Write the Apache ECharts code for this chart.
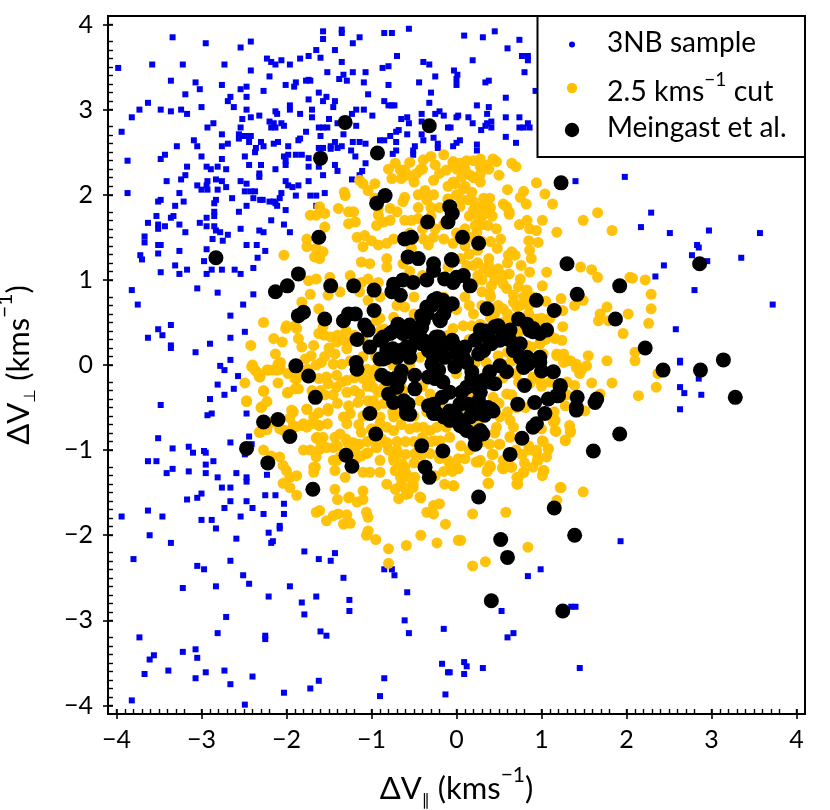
<!DOCTYPE html>
<html><head><meta charset="utf-8">
<style>html,body{margin:0;padding:0;background:#fff}#c{width:830px;height:810px}</style>
<script src="https://cdn.jsdelivr.net/npm/echarts@6/dist/echarts.min.js"></script>
</head><body><div id="c"></div>
<script>
const xTicks=[-4,-3,-2,-1,0,1,2,3,4];
const legendLabels=['3NB sample','2.5 kms','Meingast et al.'];
const sample3NB=[[-3.34,3.85],[-2.95,3.78],[-2.54,3.73],[-2.42,3.80],[-1.57,3.92],[-1.57,3.83],[-1.35,3.94],[-1.35,3.90],[-1.14,3.85],[-1.22,3.78],[-0.85,3.90],[-0.76,3.90],[-0.56,3.95],[-1.65,3.70],[-1.43,3.70],[-0.70,3.63],[-1.74,3.63],[-1.84,3.60],[-1.60,3.61],[-2.23,3.60],[-2.18,3.56],[-2.13,3.53],[-2.06,3.58],[-1.96,3.53],[-1.35,3.56],[-3.58,3.53],[-3.22,3.53],[-2.73,3.53],[-0.39,3.56],[-0.32,3.53],[-3.98,3.49],[-2.42,3.46],[-0.80,3.51],[-0.87,3.49],[-1.52,3.44],[-1.22,3.44],[-1.07,3.44],[-1.33,3.41],[-2.20,3.39],[-0.25,3.39],[-1.38,3.36],[-1.29,3.34],[-1.74,3.35],[-1.77,3.34],[-1.72,3.34],[-3.36,3.34],[-3.07,3.32],[-2.76,3.29],[-1.09,3.32],[-0.80,3.29],[-0.44,3.32],[-2.01,3.29],[-1.89,3.32],[-1.91,3.27],[-3.02,3.24],[-2.47,3.27],[-2.54,3.24],[-2.27,3.22],[-1.62,3.20],[-0.30,3.20],[-3.19,3.18],[-2.66,3.15],[-2.47,3.15],[-1.04,3.18],[-1.74,3.12],[-1.53,3.15],[-1.57,3.10],[-1.43,3.10],[-2.69,3.10],[-0.85,3.10],[-3.63,3.08],[-0.32,3.08],[-0.80,3.05],[-0.76,3.05],[-0.73,3.05],[-1.96,3.05],[-3.00,3.03],[-2.62,3.03],[-1.45,3.03],[-3.73,3.00],[-3.48,3.00],[-3.36,2.98],[-3.24,3.00],[-3.17,2.95],[-2.47,3.00],[-2.13,2.98],[-2.11,2.95],[-1.96,3.00],[-1.70,3.00],[-1.84,2.95],[-1.18,3.00],[-1.09,3.00],[-1.23,2.95],[-0.41,2.95],[-0.25,2.95],[-0.20,2.98],[-0.15,2.93],[-3.82,2.91],[-0.99,2.93],[-2.32,2.93],[-2.42,2.91],[-1.70,2.91],[-2.52,2.89],[-1.50,2.89],[-0.58,2.91],[-0.65,2.89],[-0.41,2.86],[-2.20,2.86],[-2.86,2.84],[-2.15,2.84],[-2.06,2.84],[-2.03,2.81],[-2.18,2.79],[-2.13,2.79],[-2.54,2.79],[-2.93,2.79],[-1.62,2.79],[-1.57,2.79],[-1.52,2.79],[-1.40,2.84],[-1.18,2.81],[-0.56,2.84],[-0.10,2.79],[-3.94,2.74],[-1.77,2.74],[-0.68,2.76],[-0.71,2.74],[-0.41,2.71],[-0.58,2.71],[-2.76,2.71],[-2.56,2.71],[-2.52,2.69],[-2.47,2.69],[-2.42,2.69],[-2.56,2.66],[-1.60,2.69],[-1.33,2.71],[-0.78,2.69],[-0.27,2.67],[-1.84,2.66],[-1.86,2.64],[-3.09,2.64],[-0.85,2.64],[-0.90,2.64],[-0.39,2.64],[-2.44,2.62],[-2.30,2.62],[-2.10,2.62],[-2.15,2.60],[-2.27,2.57],[-1.43,2.62],[-1.22,2.62],[-1.14,2.62],[-1.07,2.60],[-0.71,2.62],[-0.22,2.60],[-2.69,2.60],[-2.76,2.57],[-3.05,2.57],[-3.29,2.57],[-1.98,2.57],[-1.62,2.55],[-1.57,2.55],[-1.48,2.57],[-1.48,2.54],[-1.35,2.57],[-1.40,2.55],[-0.49,2.57],[-2.36,2.55],[-2.37,2.50],[-1.24,2.52],[-0.22,2.55],[-0.71,2.52],[-0.51,2.52],[-0.75,2.48],[-3.43,2.47],[-3.00,2.45],[-2.49,2.45],[-1.98,2.47],[-2.03,2.45],[-1.89,2.47],[-1.82,2.47],[-1.74,2.43],[-1.19,2.45],[-0.51,2.47],[-3.48,2.42],[-2.76,2.42],[-3.87,2.40],[-2.01,2.40],[-2.01,2.35],[-2.44,2.35],[-2.30,2.35],[-1.07,2.37],[-1.43,2.35],[-1.74,2.33],[-1.62,2.33],[-3.17,2.33],[-2.94,2.33],[-2.89,2.30],[-2.81,2.33],[-2.71,2.30],[-2.13,2.30],[-1.40,2.28],[-2.32,2.25],[-2.32,2.21],[-1.57,2.23],[-1.11,2.28],[-1.14,2.23],[-3.19,2.23],[-3.24,2.18],[-2.83,2.18],[-2.76,2.16],[-3.41,2.16],[-2.93,2.16],[-2.54,2.16],[-2.47,2.13],[-1.23,2.18],[-1.74,2.16],[-2.01,2.16],[-1.98,2.11],[-1.86,2.11],[-1.93,2.09],[-3.05,2.11],[-2.94,2.11],[-3.00,2.06],[-2.93,2.06],[-2.81,2.06],[-2.71,2.09],[-3.87,2.02],[-3.26,2.02],[-2.49,2.04],[-2.42,2.04],[-2.37,2.04],[-2.06,2.02],[-1.55,2.02],[-1.72,1.99],[-1.65,1.99],[-1.89,1.99],[-2.39,1.96],[-2.64,1.96],[-2.83,1.94],[-2.31,1.94],[-2.08,1.96],[-2.28,1.94],[-2.20,1.92],[-2.15,1.92],[-2.13,1.90],[-2.11,1.87],[-3.48,1.94],[-3.51,1.92],[-3.21,1.92],[-3.31,1.87],[-2.85,1.90],[-2.47,1.87],[-1.65,1.87],[-2.01,1.82],[-2.56,1.80],[-2.85,1.80],[-2.85,1.75],[-3.33,1.75],[-3.36,1.73],[-3.53,1.75],[-2.94,1.73],[-2.18,1.70],[-3.63,1.67],[-3.02,1.67],[-3.51,1.65],[-3.51,1.60],[-3.43,1.63],[-3.26,1.65],[-2.03,1.65],[-2.94,1.63],[-2.85,1.63],[-2.83,1.58],[-2.78,1.56],[-2.54,1.60],[-3.19,1.56],[-2.32,1.58],[-2.27,1.56],[-1.96,1.56],[-2.69,1.53],[-3.67,1.51],[-3.67,1.44],[-2.87,1.48],[-2.75,1.46],[-3.51,1.41],[-3.48,1.41],[-2.47,1.41],[-2.35,1.41],[-2.94,1.36],[-2.25,1.34],[-3.26,1.34],[-3.51,1.31],[-3.72,1.29],[-3.70,1.24],[-2.34,1.26],[-2.97,1.22],[-3.31,1.17],[-3.17,1.12],[-2.88,1.12],[-2.76,1.12],[-2.61,1.12],[-2.39,1.14],[-3.48,1.09],[-3.26,1.07],[-2.94,1.07],[-2.54,1.07],[-3.05,0.90],[-3.82,0.88],[-2.81,0.85],[-2.39,0.83],[-3.75,0.71],[-2.51,0.71],[-2.66,0.58],[-3.36,0.47],[-3.51,0.42],[-3.46,0.35],[-2.49,0.39],[-3.63,0.32],[-2.66,0.32],[-2.90,0.25],[-3.36,0.23],[-3.36,0.20],[-3.07,0.15],[-2.66,0.06],
[0.09,3.87],[0.31,3.85],[0.45,3.92],[0.60,3.72],[0.74,3.82],[0.19,3.58],[0.77,3.63],[0.84,3.63],[0.84,3.58],[-0.03,3.46],[0.01,3.41],[0,3.36],[0,3.29],[0.80,3.44],[0.34,3.32],[0.38,3.34],[0.93,3.22],[0.58,3.14],[0.24,3.05],[0.38,3.03],[0.36,2.95],[0,2.91],[0.02,2.93],[0.14,2.91],[0.19,2.84],[0.58,2.91],[0.74,2.91],[0.34,2.81],[0.36,2.84],[0.41,2.86],[0.41,2.79],[0.29,2.76],[0.74,2.79],[0.79,2.79],[0.84,2.84],[0.86,2.79],[-0.07,2.79],[0.58,2.68],[0.70,2.61],[0.04,2.64],[0,2.61],[-0.04,2.57],[0.24,2.59],[0.24,2.52],[1.40,2.16],[1.98,2.21],[2.29,1.79],[2.17,1.62],[2.51,1.55],[2.97,1.58],[3.57,1.55],[2.83,1.41],[2.85,1.38],[2.77,1.29],[2.95,1.22],[3.35,1.26],[2.44,1.17],[2.34,1.04],[2.80,0.88],[3.72,0.71],[2.58,0.42],[2.63,0.05],
[-2.78,-0.01],[-2.73,-0.06],[-2.57,-0.13],[-2.81,-0.23],[-2.62,-0.28],[-2.73,-0.35],[-2.90,-0.40],[-3.48,-0.47],[-2.47,-0.57],[-2.88,-0.57],[-2.93,-0.59],[-2.44,-0.84],[-3.51,-0.86],[-2.66,-0.91],[-3.15,-0.96],[-3.34,-0.98],[-3.10,-1.03],[-2.97,-1.01],[-2.95,-1.03],[-2.49,-1.05],[-2.41,-0.93],[-3.63,-1.13],[-3.53,-1.13],[-2.86,-1.13],[-2.95,-1.17],[-3.34,-1.22],[-3.41,-1.27],[-3.15,-1.25],[-2.95,-1.27],[-2.59,-1.27],[-2.23,-1.29],[-2.81,-1.32],[-2.47,-1.32],[-2.47,-1.37],[-2.76,-1.44],[-2.66,-1.44],[-3.00,-1.51],[-3.05,-1.56],[-3.17,-1.58],[-2.25,-1.53],[-2.13,-1.53],[-2.66,-1.60],[-2.47,-1.60],[-2.73,-1.68],[-2.40,-1.68],[-2.03,-1.63],[-2.03,-1.75],[-3.63,-1.71],[-3.94,-1.78],[-3.46,-1.78],[-2.54,-1.78],[-2.27,-1.75],[-3.00,-1.82],[-2.88,-1.82],[-2.83,-1.92],[-2.08,-1.89],[-2.08,-1.92],[-3.61,-2.00],[-2.21,-1.97],[-2.59,-2.04],[-3.36,-2.09],[-2.18,-2.09],[-2.16,-2.07],[-1.79,-2.19],[-1.43,-2.21],[-1.62,-2.28],[-1.48,-2.30],[-3.80,-2.28],[-2.66,-2.30],[-3.05,-2.36],[-2.97,-2.40],[-0.85,-2.40],[-0.76,-2.40],[-0.73,-2.47],[-2.51,-2.47],[-2.44,-2.57],[-1.33,-2.50],[-2.83,-2.60],[-3.22,-2.62],[-1.96,-2.60],[-0.58,-2.67],[-2.21,-2.72],[-1.65,-2.72],[-1.82,-2.79],[-1.26,-2.76],[-1.26,-2.89],[-1.79,-2.93],[-2.71,-2.96],[-0.61,-3.00],[-0.15,-3.10],[-1.60,-3.13],[-1.53,-3.18],[-0.56,-3.15],[-2.81,-3.15],[-2.25,-3.18],[-2.25,-3.22],[-3.73,-3.20],[-3.07,-3.34],[-3.22,-3.37],[-3.05,-3.44],[-3.56,-3.41],[-3.61,-3.46],[-0.17,-3.51],[-3.39,-3.59],[-2.73,-3.59],[-2.95,-3.61],[-3.67,-3.63],[-3.07,-3.68],[-2.40,-3.66],[-0.85,-3.68],[-0.10,-3.61],[-1.62,-3.71],[-2.66,-3.75],[-1.72,-3.80],[-2.03,-3.85],[-0.13,-3.87],[-0.90,-3.89],[-3.82,-3.94],[-2.49,-3.99],
[2.63,0.03],[2.85,-0.16],[2.63,-0.26],[2.68,-0.33],[2.88,-0.35],[2.63,-0.52],[1.93,-2.07],[0.99,-2.40],[0.84,-2.48],[0.53,-2.89],[1.35,-2.84],[1.40,-2.84],[0.67,-3.15],[0.60,-3.20],[0.09,-3.49],[0.12,-3.54],[0.09,-3.63],[-0.08,-3.61],[0.31,-3.56],[1.45,-3.56]];
const cut25=[[0.94,2.14],[0.60,2.06],[0.79,2.04],[1.04,2.01],[0.75,1.97],[0.82,1.89],[1.13,1.89],[0.55,1.89],[0.59,1.86],[0.62,1.77],[0.62,1.80],[0.50,2.23],[0.65,2.37],[0.70,2.33],[0.43,2.42],[0.47,2.39],[0.36,2.35],[0.28,2.42],[0.28,2.33],[0.20,2.40],[0.12,2.40],[0.04,2.37],[-0.04,2.37],[0.38,2.30],[0.28,2.24],[0.28,2.15],[0.16,2.23],[0.06,2.21],[-0.02,2.13],[0.08,2.07],[0.18,2.03],[0.14,1.94],[0.04,1.86],[0.32,1.96],[0.39,1.96],[0.32,1.88],[0.20,1.82],[0.35,1.83],[0.26,1.72],[1.01,1.70],[0.83,1.70],[0.74,1.65],[0.86,1.60],[0.94,1.58],[1.18,1.56],[1.49,1.70],[1.66,1.79],[1.83,1.58],[0.47,1.60],[0.37,1.64],[0.30,1.65],[0.22,1.64],[0.24,1.56],[0.52,1.48],[0.48,1.37],[0.85,1.46],[0.96,1.44],[0.86,1.35],[0.88,1.25],[0.65,1.33],[0.61,1.29],[0.69,1.29],[0.38,1.25],[0.38,1.17],[0.32,1.13],[0.20,1.17],[0.12,1.17],[0.49,1.13],[0.43,1.09],[0.38,1.09],[0.76,1.17],[0.86,1.09],[0.62,1.07],[1.06,1.09],[1.46,1.15],[1.59,1.12],[1.66,1.03],[1.01,0.93],[0.75,1.01],[0.73,0.92],[0.59,0.90],[0.67,0.82],[0.79,0.80],[0.83,0.88],[0.30,0.86],[0.39,0.84],[0.41,0.93],[0.49,0.70],[0.55,0.66],[0.67,0.74],[0.71,0.68],[1.23,0.78],[0.94,0.54],[1.25,0.64],[1.39,0.70],[1.49,0.76],[1.25,0.45],[1.69,0.60],[1.77,0.68],[1.67,0.52],[1.79,0.52],[2.02,0.60],[2.04,1.03],
[1.96,0.37],[2.26,0.49],[2.29,0.66],[2.29,0.83],[2.07,1.02],[2.22,1.00],[1.16,0.31],[1.24,0.29],[0.88,0.21],[0.98,0.25],[1.18,0.13],[1.26,0.13],[1.55,0.11],[1.77,0.05],[2.10,0.15],[2.10,0.05],
[2.35,-0.26],[2.37,-0.10],[2.14,-0.36],[1.83,-0.21],[1.59,-0.21],[1.41,-0.03],[1.47,-0.06],[1.53,-0.01],[1.45,-0.10],[1.39,-0.24],[1.30,0.05],[1.26,0.03],[1.28,-0.48],[1.51,-0.54],[1.69,-0.34],[1.14,-0.67],[1.17,-0.78],[1.33,-0.71],[1.34,-0.79],[1.28,-0.88],[1.01,-0.89],[1.08,-0.98],[1.06,-1.08],[0.95,-1.12],[0.94,-1.03],[0.85,-1.00],[0.42,-1.05],[0.50,-0.93],[0.63,-0.84],[0.77,-1.05],[0.79,-1.26],[0.73,-1.32],[0.72,-1.40],[1.03,-1.24],[1.01,-1.30],[0.40,-1.20],[0.36,-1.25],[0.28,-1.12],[0.23,-1.14],[0.02,-1.10],[0,-1.21],[0.54,-1.21],[0.64,-1.20],[0.55,-1.12],[0.38,-1.39],[-0.03,-1.42],[1.23,-1.44],[1.49,-1.49],[1.18,-1.59],[0.58,-1.73],[0.19,-1.75],[0.02,-2.06],[0.05,-2.06],[0.84,-2.14],[0.34,-2.31],[0.19,-2.36],
[-2.41,-0.02],[-2.35,-0.08],[-2.32,-0.14],[-2.23,-0.06],[-2.10,0.01],[-2.16,-0.06],[-2.49,-0.21],[-2.10,-0.21],[-2.27,-0.31],[-2.23,-0.43],[-2.30,-0.50],[-2.47,-0.43],[-1.99,-0.33],[-1.90,-0.28],[-1.88,-0.16],[-1.84,-0.06],[-1.92,-0.55],[-1.76,-0.52],[-1.68,-0.61],[-1.61,-0.71],[-1.80,-0.69],[-1.92,-0.71],[-2.02,-0.77],[-2.08,-0.75],[-2.23,-0.76],[-2.32,-0.79],[-1.65,-0.86],[-1.80,-1.00],[-1.72,-1.00],[-1.61,-0.99],[-1.65,-1.08],[-1.53,-0.97],[-1.45,-1.12],[-1.37,-1.08],[-1.45,-0.97],[-1.57,-0.85],[-2.27,-1.00],[-2.18,-1.07],[-2.08,-1.08],[-2.04,-1.18],[-2.00,-1.24],[-1.88,-1.30],[-1.96,-1.32],[-2.04,-1.39],[-1.96,-1.44],[-1.88,-1.53],[-1.68,-1.26],[-1.66,-1.20],[-1.43,-1.24],[-1.41,-1.12],[-1.31,-1.32],[-1.43,-1.46],[-1.40,-1.58],[-1.26,-1.55],[-1.17,-1.61],[-1.10,-1.48],[-1.10,-1.58],[-1.65,-1.73],[-1.61,-1.71],[-1.53,-1.83],[-1.45,-1.77],[-1.39,-1.75],[-1.29,-1.76],[-1.25,-1.86],[-1.33,-1.87],[-1.06,-1.73],[-1.04,-1.79],[-1.04,-1.95],[-1.06,-2.00],[-0.95,-2.05],[-0.80,-2.16],[-0.80,-2.33],[-0.59,-2.12],[-0.42,-2.00],[-0.23,-2.09],[-0.13,-1.87],[-0.35,-1.73],[-0.27,-1.75],[-0.20,-1.63],[-0.27,-1.65],[-0.42,-1.56],[-0.68,-1.57],[-0.59,-1.52],[-0.72,-1.46],[-0.82,-1.40],[-0.66,-1.42],[-0.51,-1.44],[-0.49,-1.32],[-0.59,-1.28],[-0.72,-1.24],[-0.90,-1.26],[-1.02,-1.26],[-1.10,-1.26],[-0.90,-1.12],[-0.74,-1.08],[-0.70,-1.00],[-0.64,-1.16],[-1.06,-1.04],[-1.18,-1.10],[-0.94,-0.97],[-0.82,-0.91],[-1.17,-0.93],[-1.27,-0.93],
[-2.27,0.50],[-2.15,0.31],[-2.05,0.27],[-2.42,0.23],[-2.01,0.43],[-1.88,0.43],[-1.86,0.31],[-1.82,0.21],[-2.13,0.13],[-2.07,0.03],[-2.07,-0.05],[-2.40,0],[-2.37,-0.06],[-2.31,-0.14],[-2.21,-0.06],[-2.11,-0.06],[-1.98,-0.10],[-2.27,-0.30],[-2.47,-0.42],[-2.29,-0.49],[-1.86,-0.28],[-1.98,-0.32],[-1.90,-0.16],[-1.94,-0.53],[-1.96,-0.62],[-1.82,-0.71],[-1.90,-0.73],[-2.03,-0.77],[-2.17,-0.67],[-2.31,-0.79],[-1.76,-0.52],[-1.62,-0.56],[-1.70,-0.69],[-1.62,-0.71],[-1.76,-0.73],[-1.52,-0.69],[-1.51,-0.51],[-1.64,-0.85],[-1.68,-1.20],[-1.27,-1.56],[-1.68,0.23],[-1.56,0.35],[-1.62,0.37],[-1.48,0.33],[-1.59,0.03],[-1.71,0.11],[-1.78,0.07],[-1.33,0.29],[-1.41,0.27],[-1.43,0.13],[-1.29,0.19],[-1.35,0.01],[-1.45,0.01],[-1.62,-0.16],[-1.53,-0.14],[-1.41,-0.12],[-1.29,-0.18],[-1.41,-0.26],[-1.51,-0.22],[-1.29,-0.32],[-1.14,-0.34],[-1.04,-0.42],[-1.16,-0.44],[-1.27,-0.48],[-1.25,-0.57],[-1.29,-0.69],[-1.37,-0.81],[-1.43,-0.85],[-1.51,-0.54],[-1.33,-0.61],[-1.14,-0.93],[-1.22,-0.91],[-1.30,-0.87],[-0.94,-0.97],[-1.04,-1.03],[-1.12,-1.07],[-0.82,-0.93],[-0.88,-0.87],[-0.74,-0.77],[-0.74,-0.61],[-0.66,-0.57],[-1.12,-0.79],[-0.90,-0.69],[-0.82,-0.73],[-0.90,-0.61],[-0.98,-0.26],[-0.92,-0.32],[-1.10,-0.16],[-0.98,-0.42],[-0.94,-0.48],[-0.74,-1.12],[-0.70,-1.05],[-0.62,-1.20],[-0.72,-1.24],[-0.62,-1.32],
[-1.32,2.03],[-1.31,1.99],[-1.61,1.86],[-1.55,1.78],[-1.72,1.76],[-1.65,1.76],[-1.39,1.84],[-1.27,1.80],[-1.21,1.80],[-1.55,1.62],[-1.27,1.66],[-1.19,1.68],[-1.76,1.48],[-1.76,1.39],[-1.65,1.37],[-1.57,1.33],[-1.67,1.27],[-1.61,1.25],[-2.03,1.29],[-1.10,2.13],[-1.14,2.17],[-0.96,2.13],[-1.04,2.05],[-0.72,2.37],[-0.66,2.29],[-0.76,2.19],[-0.65,2.19],[-0.57,2.23],[-0.47,2.25],[-0.61,2.29],[-0.39,2.41],[-0.25,2.35],[-0.27,2.17],[-0.37,2.05],[-0.35,1.94],[-0.27,2.00],[-0.04,2.39],[-0.15,2.47],[-0.04,2.15],[-0.12,2.29],[-0.61,1.97],[-0.63,1.92],[-0.78,1.84],[-0.70,1.80],[-0.78,1.70],[-0.92,1.84],[-0.96,1.96],[-0.92,1.76],[-0.94,1.64],[-0.86,1.68],[-0.53,1.70],[-0.61,1.70],[-0.45,1.72],[-0.15,1.48],[-0.27,1.50],[-0.39,1.48],[-0.33,1.41],[-0.04,1.43],[-1.17,1.50],[-1.08,1.52],[-1.10,1.39],[-1.00,1.46],[-0.92,1.41],[-0.82,1.43],[-0.74,1.48],[-1.12,1.21],[-1.02,1.19],[-0.82,1.25],[-0.82,1.15],[-0.53,1.37],[-0.63,1.19],[-1.25,1.05],[-1.12,0.97],[-1.04,1.01],[-0.92,0.97],[-1.74,0.99],[-1.65,1.01],[-1.49,1.03],[-1.72,0.83],[-1.82,0.74],[-1.62,0.66],[-1.51,0.82],[-1.37,0.86],[-1.14,0.86],[-1.04,0.76],[-0.90,0.80],[-0.94,0.88],[-0.70,0.70],[-0.61,0.68],[-0.74,0.56],[-0.94,0.52],[-2.00,0.46],[-1.90,0.46],[-1.57,0.45],
[-0.04,0.43],[0.08,0.46],[0.18,0.46],[0.28,0.48],[-0.60,0.33],[-0.43,0.09],[-0.55,0.01],[0.35,0.03],[0.49,0.11],[0.55,0.01],[0.22,0.03],[0.98,0.25],[0.83,0.23],[1.02,0.13],[1.18,0.11],[1.34,0.05],[1.41,0.01],[0.90,-0.14],[0.86,-0.22],[0.98,-0.18],[0.73,-0.20],[0.59,-0.34],[0.43,-0.38],[0.51,-0.61],[0.63,-0.65],[0.67,-0.73],[0.47,-0.73],[0.71,-0.50],[0.81,-0.50],[-0.31,-0.34],[-0.43,-0.42],[-0.39,-0.73],[-0.47,-0.73],[-0.31,-0.77],[-0.23,-0.73],[-0.12,-0.73],[-0.25,-0.89],[-0.08,-0.85],[-0.63,-0.30],[-0.65,-0.26],[0,-0.10],[0.16,0.05],[1.34,-0.77],[1.16,-0.77],[1.28,-0.89],[1.16,-0.65],[1.02,-0.90],[1.08,-0.99],[0.94,-1.00],[0.96,-1.12],[1.02,-1.24],[0.79,-1.26],[0.71,-1.32],[0.71,-1.40],[0.63,-0.85],[0.51,-0.93],[0.39,-0.93],[0.43,-1.05],[0.26,-1.14],[0.37,-1.22],[0.39,-1.18],[0.55,-1.22],[0.65,-1.20],[-0.08,-1.16],[0.02,-1.22],[-0.10,-1.12],[-0.49,-1.04],[-0.41,-1.06],[-0.31,-1.04],[-0.19,-0.89],[-0.61,-1.20],[-0.66,-1.32],[-0.55,-1.32],[-0.51,-1.40],[-0.61,-1.44],[-0.57,-1.51],[-0.43,-1.55],[-0.14,-1.40],[-0.04,-1.42],[0.37,-1.39],[1.22,-1.44],
[-0.70,0.10],[-0.80,0.20],[-0.60,-0.10],[-0.75,0],[-0.85,-0.25],[-0.60,-0.45],[-0.70,-0.35],[-0.50,-0.60],[-0.35,-0.55],[-0.40,-0.25],[-0.20,-0.45],[-0.05,-0.60],[0.10,-0.55],[0.25,-0.70],[0.35,-0.55],[0.15,-0.35],[0.30,-0.15],[0.10,0.10],[-0.10,0.35],[0.15,0.30],[0.50,0.30],[0.60,0.50],[0.45,0.60],[0.20,0.60],[0,0.65],[-0.15,0.80],[0.10,0.80],[-0.50,0.80],[-0.40,1.05],[-0.50,0.60],[-0.90,0.40],[-1.20,0.35],[-1.10,0.10],[-0.95,-0.05],[-1.20,-0.15],[0.65,0.05],[0.75,-0.05],[0.75,0.40],[0.95,0.40],[1.10,0.55],[1.05,0.75],[0.90,0.80],[-0.10,1.15],[0.05,1.05],[0.25,1.05],[-0.55,1.10],[-0.15,1.65],[-0.30,1.75],[-0.10,1.95],[0.10,1.60],[0.10,1.40],[0.25,1.35],
[-0.40,2.30],[-0.30,2.45],[-0.20,2.25],[-0.10,2.10],[0,2.30],[0.10,2.30],[0.20,2.20],[0.10,2.10],[-0.10,1.95],[0,2.00],[0.05,1.95],[0.20,1.92],[0.25,1.85],[0.40,1.85],[0.42,1.75],[0.30,1.75],[0.15,1.75],[-0.20,1.85],[-0.45,2.00],[-0.50,2.15],[-0.42,2.30],[-0.55,2.38],[-0.80,2.30],[-0.30,1.85],[-0.45,1.85],[-0.55,1.55],[-0.40,1.60],[-0.25,1.60],[0,1.55],[0.15,1.50],[0.30,1.45],[0.40,1.45],[0.15,1.30],[0.05,1.25],[0.25,1.20],[0.55,1.05],[0.60,1.20],[0.30,1.00],[0.45,1.00],[0.55,0.95],[0.40,0.80],[0.20,0.95],[0.15,0.70],[0.30,0.70],[0.40,0.55],[0.55,0.50],[0.75,0.70],[0.85,0.70],[0.60,0.60],[1.00,0.55],[1.10,0.35],[1.00,0.45],[0.85,0.60],
[-1.30,0.40],[-1.50,0.20],[-1.25,0.05],[-1.05,-0.05],[-0.95,0.10],[-0.85,0.10],[-0.75,0.10],[-0.70,-0.10],[-1.00,-0.15],[-1.20,-0.30],[-1.05,-0.25],[-0.85,-0.45],[-0.75,-0.55],[-0.65,-0.70],[-0.55,-0.75],[-0.60,-0.90],[-0.70,-0.90],[-0.50,-0.90],[-0.40,-0.85],[-0.30,-0.90],[-1.00,-0.55],[-1.10,-0.60],[-1.15,-0.70],[-1.00,-0.75],[-0.95,-0.90],[-1.05,-0.90],[-1.40,-0.45],[-1.45,-0.35],[-1.35,-0.20],[-1.55,-0.35],[-1.60,-0.30],[-1.70,-0.30],[-1.75,-0.15],[-1.75,-0.05],[-1.65,0],[-1.55,0.10],[-1.40,0.35],[-1.25,0.28],[-1.10,0.30],[-0.90,0.55],[-0.85,0.42],[-1.60,-0.90],[-1.40,-0.95],[-1.20,-1.00],[-0.80,-1.00],[-0.60,-1.05],[-0.50,-1.15],[-0.35,-1.20],[-0.20,-1.10],[-0.15,-1.25],[-0.25,-1.30],[-0.05,-1.25],[0.15,-1.00],[0.05,-0.95],[0.10,-1.10],
[0.30,-0.90],[0.20,-0.80],[0.45,-0.80],[0.60,-0.55],[0.50,-0.45],[0.65,-0.35],[0.55,-0.15],[0.70,-0.10],[0.60,0.15],[0.45,0.35],[0.70,0.35],[1.05,0.30],[1.00,-0.25],[1.10,-0.20],[1.30,-0.20],[1.30,-0.35],[1.15,-0.55],[1.00,-0.75],[0.85,-0.95],[0.70,-1.00],[0.80,-1.15],[0.90,-1.20]];
const meingast=[[-1.31,2.85],[-0.32,2.81],[-1.60,2.43],[-0.93,2.49],[-0.84,1.99],[-0.94,1.90],[-0.34,1.68],[-0.08,1.86],[-0.05,1.78],[-0.10,1.68],[-1.62,1.50],[-0.61,1.48],[-0.53,1.50],[-2.83,1.26],[-1.86,1.07],[-1.99,0.93],[-2.13,0.86],[-0.57,1.27],[-0.45,1.25],[-0.27,1.19],[-0.27,1.11],[-0.06,1.24],[-1.48,0.93],[-1.21,0.93],[-0.97,0.88],[-0.74,0.95],[-0.63,1.00],[-0.76,0.86],[-0.66,0.82],[-0.51,0.97],[-0.35,1.00],[-0.14,1.01],[-0.04,0.97],[-0.97,0.64],[-0.29,0.70],[-0.23,0.78],[-0.15,0.60],[-0.35,0.60],[-0.19,0.52],[-0.39,0.52],[-1.80,0.62],[-1.86,0.58],[-1.55,0.54],[-1.27,0.60],[-1.19,0.60],[-1.33,0.52],[-1.08,0.47],[-0.68,0.47],[-0.55,0.47],
[-1.04,0.41],[-1.17,0.30],[-1.02,0.21],[-0.90,0.29],[-0.78,0.37],[-0.63,0.37],[-0.90,0.07],[-0.74,0.17],[-0.59,0.21],[-1.89,-0.01],[-1.74,-0.13],[-1.18,0.03],[-1.17,-0.05],[-1.66,-0.38],[-0.88,-0.12],[-0.72,-0.16],[-0.80,-0.34],[-0.74,-0.44],[-0.59,-0.57],[-0.65,-0.07],[-1.02,-0.57],[-0.95,-0.81],[-2.27,-0.67],[-2.10,-0.64],[-1.96,-0.84],[-2.47,-0.98],[-2.22,-1.15],[-1.30,-1.06],[-1.23,-1.19],[-1.69,-1.46],
[-0.55,0.19],[-0.47,0.29],[-0.55,0.41],[-0.41,0.44],[-0.21,0.33],[-0.19,0.19],[-0.29,0.01],[-0.04,0.23],[0.10,0.21],[0.08,0.09],[0.26,0.13],[0.41,0.25],[0.37,0.33],[-0.02,-0.02],[-0.21,-0.06],[0.18,-0.08],[-0.49,-0.12],[-0.67,-0.16],[-0.49,-0.28],[-0.57,-0.46],[-0.55,-0.58],[-0.27,-0.46],[-0.23,-0.57],[-0.08,-0.54],[0.04,-0.46],[0.12,-0.26],[-0.08,-0.32],[-0.16,-0.20],[0.28,-0.32],[0.26,-0.42],[0.45,-0.22],[0.39,-0.08],[0.59,-0.08],[0.51,-0.01],[0.24,-0.57],[0.41,-0.52],[0.33,-0.59],[0.04,-0.71],[0.12,-0.77],[0.31,-0.81],[0.22,-0.93],[0.72,-0.46],[0.80,-0.24],[0.92,-0.44],[1.04,-0.57],[0.94,-0.69],[0.90,-0.73],[0.77,-0.86],[-0.41,-0.95],[-0.16,-1.01],[0.63,-1.05],[-0.37,-1.20],[-0.32,-1.32],[0.26,-1.55],[0.80,0.07],[0.79,-0.03],[0.96,0.07],[1.00,-0.07],[1.14,-0.08],[1.06,0.41],[0.90,0.39],[0.69,0.23],[0.63,0.29],[0.49,0.46],[0.59,0.35],[1.22,-0.24],[1.18,-0.36],[1.08,-0.40],[1.41,-0.50],
[2.43,-0.06],[2.87,-0.06],[3.14,0.06],[3.28,-0.38],[1.92,-0.81],[1.61,-1.01],[1.42,-0.38],[1.41,-0.53],[1.65,-0.40],[1.63,-0.44],[1.22,-0.26],[1.20,-0.36],[1.15,-1.68],[0.52,-2.05],[1.39,-2.00],[0.60,-2.26],[0.41,-2.77],[1.25,-2.89],
[1.23,2.14],[0.07,1.50],[0.26,1.43],[1.30,1.19],[2.86,1.19],[1.92,0.93],[1.42,0.83],[0.94,0.76],[1.15,0.64],[1.87,0.54],[2.22,0.20],[-0.05,1.23],[0.16,0.93],[0.08,1.05],[0,1.03],[-0.05,0.72],[0.36,0.66],[0.45,0.45],[0.35,0.37],[0.28,0.41],[0.73,0.54],[0.83,0.48],[0.90,0.43],[0,0.21],[0.39,0.25],[0.75,0.25],[0.67,0.17],[0.98,0.09],[0.83,0.09],
[-0.39,0.29],[-0.27,0.29],[-0.33,0.17],[-0.14,0.09],[-0.05,0.29],[0,0.13],[0.12,0.03],[0.32,0.17],[0.22,0.29],[0.35,0.40],[-0.25,-0.16],[-0.33,-0.14],[-0.17,-0.38],[0.06,-0.32],[0.18,-0.16],[0.32,-0.18],[0.24,-0.26],[0.39,-0.20],[0.14,-0.46],[0.16,-0.61],[0,-0.61],[-0.08,-0.65],[0.08,-0.73],[0.20,-0.81],[0.28,-0.77],[0.37,-0.50],[0.43,-0.54],[-0.27,-0.57],[-0.15,-0.61],[-0.33,-0.48],[0.47,0.45],[0.63,0.41],[0.51,0.29],[0.86,0.41],[0.98,0.37],[0.71,0.21],[0.75,0.09],[0.84,0.01],[0.98,0.03],[-0.82,0.17],[-0.66,0.17],[-0.70,0.09],[-0.82,0.09],[-0.70,-0.26],[-0.62,-0.42],[-0.59,-0.50],[-0.82,-0.16],[-0.27,0.76],[-0.35,0.68],[-0.16,0.76],[-0.41,0.58],[-0.20,0.54],[-0.12,0.68],[-0.69,0.48],[-0.51,0.37],[-0.75,0.39],[-0.86,0.33],[-0.75,0.19],[-0.57,0.21],[-0.41,0.25],[-0.24,0.33],[-0.08,0.25],[-0.55,0.09],[-0.27,0.09],[-0.86,0.07]];

const font='Lato';
const ink='#000';
const blue='#0000f0', gold='#ffc000';
const axisBase=(extra)=>Object.assign({type:'value',min:-4.1,max:4.1,splitLine:{show:false},axisLine:{show:false,onZero:false}},extra);
const tickFmt=v=>{const a=Math.abs(v);if(Math.abs(a-Math.round(a))>1e-6)return '';return (v<0?'\u2212':'')+Math.round(a);};
const major=(name,rich,margin,extra)=>axisBase(Object.assign({
  startValue:-4,interval:1,
  axisTick:{show:true,inside:false,length:5,lineStyle:{color:ink,width:1.6},customValues:xTicks},
  axisLabel:{show:true,color:ink,fontFamily:font,fontSize:25,margin:margin,formatter:tickFmt,customValues:xTicks},
  name:name,nameLocation:'middle',nameTextStyle:{color:ink,fontFamily:font,fontSize:31,rich:rich}
},extra));
const inner=(extra)=>axisBase(Object.assign({
  startValue:-4,interval:1,
  axisTick:{show:true,inside:true,length:5,lineStyle:{color:ink,width:1.6},customValues:xTicks},
  minorTick:{show:true,splitNumber:10,length:5,lineStyle:{color:ink,width:1.4}},
  axisLabel:{show:false}
},extra));
const richCommon={
  t:{fontFamily:font,fontSize:31,color:ink,lineHeight:36,verticalAlign:'bottom'},
  sub:{fontFamily:'DejaVu Sans',fontSize:16,color:ink,lineHeight:36,verticalAlign:'bottom',padding:[0,0,-5,0]},
  sup:{fontFamily:font,fontSize:21,color:ink,lineHeight:36,verticalAlign:'top',padding:[-3,0,0,0]}
};
const option={
  animation:false,
  grid:{left:108,right:25,top:16,bottom:96,outerBoundsMode:'none',show:true,borderColor:ink,borderWidth:2,backgroundColor:'#fff'},
  xAxis:[
    major('{t|\u0394V}{sub|\u2225} {t|(kms}{sup|\u22121}{t|)}',richCommon,13,{position:'bottom',nameGap:54}),
    inner({position:'bottom'})
  ],
  yAxis:[
    major('{t|\u0394V}{sub|\u22a5} {t|(kms}{sup|\u22121}{t|)}',richCommon,15,{position:'left',nameGap:74}),
    inner({position:'left'})
  ],
  series:[
    {name:legendLabels[0],type:'scatter',data:sample3NB,symbol:'rect',symbolSize:6,itemStyle:{color:blue,opacity:1},z:2},
    {name:'cut',type:'scatter',data:cut25,symbol:'circle',symbolSize:11,itemStyle:{color:gold,opacity:0.95},z:3},
    {name:legendLabels[2],type:'scatter',data:meingast,symbol:'circle',symbolSize:15,itemStyle:{color:'#000',opacity:1},z:4}
  ],
  graphic:{elements:[
    {type:'rect',z:100,shape:{x:537.5,y:16,width:267.5,height:141},style:{fill:'#fff',stroke:ink,lineWidth:2}},
    {type:'circle',z:101,shape:{cx:572,cy:44.5,r:3},style:{fill:blue}},
    {type:'circle',z:101,shape:{cx:572,cy:88,r:5.2},style:{fill:gold}},
    {type:'circle',z:101,shape:{cx:572,cy:130,r:7.2},style:{fill:'#000'}},
    {type:'text',z:101,x:607,y:43,style:{text:legendLabels[0],fontFamily:font,fontSize:28,fill:ink,verticalAlign:'middle'}},
    {type:'text',z:101,x:607,y:88,style:{text:'{a|2.5 kms}{b|\u22121}{a| cut}',verticalAlign:'middle',rich:{a:{fontFamily:font,fontSize:28.5,color:ink,lineHeight:36,verticalAlign:'bottom'},b:{fontFamily:font,fontSize:19,color:ink,lineHeight:36,verticalAlign:'top'}}}},
    {type:'text',z:101,x:607,y:128,style:{text:legendLabels[2],fontFamily:font,fontSize:28,fill:ink,verticalAlign:'middle'}}
  ]}
};
const chart=echarts.init(document.getElementById('c'),null,{renderer:'canvas'});
chart.setOption(option);
</script></body></html>
